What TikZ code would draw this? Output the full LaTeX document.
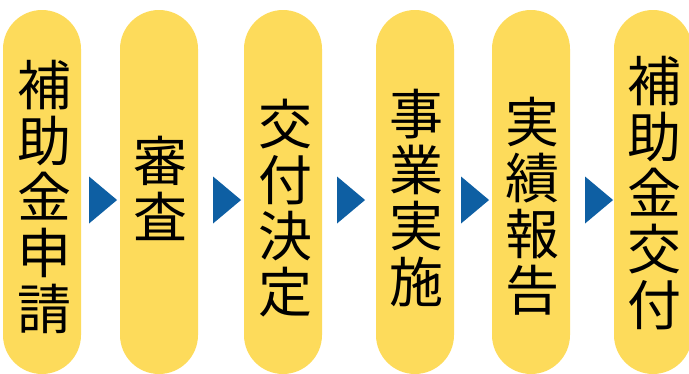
\documentclass[tikz,border=0pt]{standalone}
\usepackage{fontspec}
\newfontfamily\jpfont{Noto Sans CJK JP}
\usetikzlibrary{shapes.geometric}
\definecolor{pillyellow}{HTML}{FDDB5B}
\definecolor{arrowblue}{HTML}{0E5FA3}
\tikzset{
  pill/.style={rectangle, fill=pillyellow, rounded corners=39pt, minimum width=78pt, minimum height=364pt, inner sep=0pt},
  lbl/.style={font=\jpfont\fontsize{54}{56}\selectfont, align=center, inner sep=0pt, text=black},
  tri/.style={isosceles triangle, isosceles triangle apex angle=80, fill=arrowblue, inner sep=0pt, minimum width=33pt, minimum height=28pt, shape border rotate=0}
}
\begin{document}
\begin{tikzpicture}[x=1pt,y=-1pt]
\useasboundingbox (0,0) rectangle (689,373);
\clip (0,0) rectangle (689,373);
\node[pill] (p1) at (42,192) {};
\node[pill] (p2) at (159,192) {};
\node[pill] (p3) at (283,192) {};
\node[pill] (p4) at (415,192) {};
\node[pill] (p5) at (531,192) {};
\node[pill] (p6) at (653,192) {};
\node[lbl] (t1) at (44,197) {補\\助\\金\\申\\請};
\node[lbl] (t2) at (160,188) {審\\査};
\node[lbl] (t3) at (285,208) {交\\付\\決\\定};
\node[lbl] (t4) at (416,198) {事\\業\\実\\施};
\node[lbl] (t5) at (532,206) {実\\績\\報\\告};
\node[lbl] (t6) at (654,193) {補\\助\\金\\交\\付};
\node[tri] (a1) at (100,200) {};
\node[tri] (a2) at (224,200) {};
\node[tri] (a3) at (348,200) {};
\node[tri] (a4) at (472,200) {};
\node[tri] (a5) at (596,200) {};
\end{tikzpicture}
\end{document}
